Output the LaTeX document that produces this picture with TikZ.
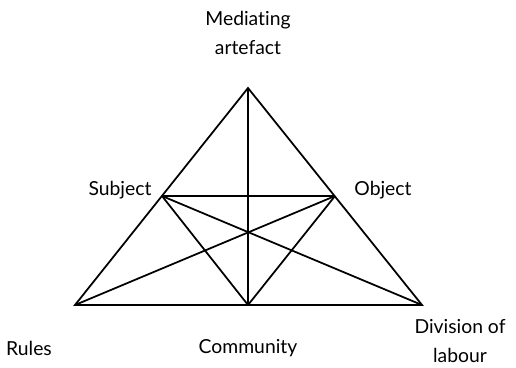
\documentclass[tikz,border=0pt]{standalone}
\usepackage{fontspec}
\setmainfont{Lato}[Ligatures={NoCommon,NoRequired,NoContextual}]
\usetikzlibrary{calc}

\begin{document}
\begin{tikzpicture}[x=0.03cm,y=-0.03cm]
		
		\useasboundingbox (0,0) rectangle (516,367);
		\tikzset{lbl/.style={align=center, font=\fontsize{16.5}{24}\selectfont}}
		
		% Define the coordinates for the corners
		\coordinate (T) at (248, 88);
		\coordinate (L) at (75, 305);
		\coordinate (R) at (422, 305);
		\coordinate (S) at (162, 196);
		\coordinate (O) at (335, 196);
		\coordinate (C) at (248, 305);
		
		% Draw the labels
		\node[lbl] (artefact) at (248, 33) {Mediating\\artefact};
		\node[lbl] (subject) at (120, 190) {Subject};
		\node[lbl] (object) at (383, 190) {Object};
		\node[lbl] (rules) at (29, 348) {Rules};
		\node[lbl] (community) at (248, 348) {Community};
		\node[lbl] (division) at (460, 341) {Division of\\labour};
		
		% Draw the outer triangle
		\draw[line width=1.5pt, line join=miter] (T) -- (L) -- (R) -- cycle;
		
		% Draw the inner lines
		\draw[line width=1.5pt] (T) -- (C);
		\draw[line width=1.5pt] (S) -- (O);
		\draw[line width=1.5pt] (S) -- (C);
		\draw[line width=1.5pt] (O) -- (C);
		\draw[line width=1.5pt] (S) -- (R);
		\draw[line width=1.5pt] (O) -- (L);
		
	\end{tikzpicture}
\end{document}
